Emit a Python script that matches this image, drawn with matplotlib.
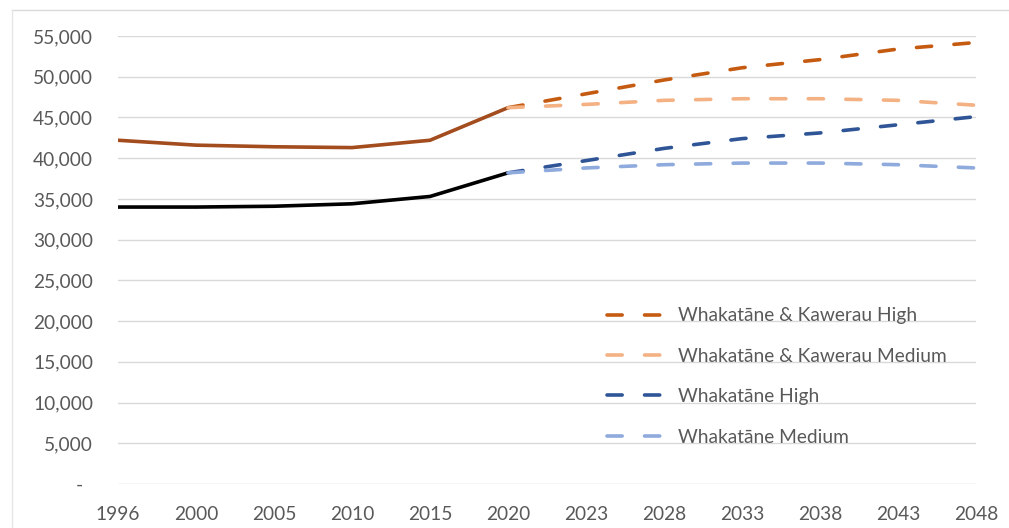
import matplotlib.pyplot as plt
from matplotlib.lines import Line2D
from matplotlib.ticker import FuncFormatter

years = ["1996", "2000", "2005", "2010", "2015", "2020",
         "2023", "2028", "2033", "2038", "2043", "2048"]

# Estimated / census population, 1996-2020
wk_hist = [42200, 41600, 41400, 41300, 42200, 46200]
wh_hist = [34000, 34000, 34100, 34400, 35300, 38200]

# Projections, 2020-2048
wk_high = [46200, 47900, 49600, 51100, 52100, 53400, 54200]
wk_med = [46200, 46600, 47100, 47300, 47300, 47100, 46500]
wh_high = [38200, 39700, 41200, 42400, 43100, 44100, 45100]
wh_med = [38200, 38800, 39200, 39400, 39400, 39200, 38800]

labels = ["Whakatāne & Kawerau High", "Whakatāne & Kawerau Medium",
          "Whakatāne High", "Whakatāne Medium"]
proj_colors = ["#C55A11", "#F4B183", "#2F5597", "#8FAADC"]

plt.rcParams['font.family'] = ['Lato', 'DejaVu Sans']
text_color = "#595959"
fs = 13.8

fig = plt.figure(figsize=(10.09, 5.28), dpi=100)
ax = fig.add_axes([118 / 1009, 1 - 484 / 528, (976 - 118) / 1009, (484 - 36) / 528])

x_hist = list(range(len(wk_hist)))
x_proj = list(range(len(wk_hist) - 1, len(years)))

ax.plot(x_hist, wk_hist, color="#A34C1D", lw=2.6, solid_capstyle="round", zorder=3)
ax.plot(x_hist, wh_hist, color="#000000", lw=2.6, solid_capstyle="round", zorder=3)

dash = (4.2, 6.2)
handles = []
for series, col, lab in zip([wk_high, wk_med, wh_high, wh_med], proj_colors, labels):
    ax.plot(x_proj, series, color=col, lw=2.6, dashes=dash,
            dash_capstyle="round", label=lab, zorder=4)
    handles.append(Line2D([], [], color=col, lw=2.6, dashes=dash,
                          dash_capstyle="round"))

ax.set_xlim(0, len(years) - 1)
ax.set_ylim(0, 55000)
ax.set_yticks(range(0, 55001, 5000))
ax.yaxis.set_major_formatter(
    FuncFormatter(lambda v, p: "-  " if v == 0 else f"{int(v):,}"))
ax.set_xticks(range(len(years)))
ax.set_xticklabels(years)

ax.grid(axis="y", color="#D9D9D9", lw=1.0)
ax.set_axisbelow(True)
for s in ax.spines.values():
    s.set_visible(False)
ax.tick_params(axis="both", length=0, labelsize=fs, labelcolor=text_color)
ax.tick_params(axis="y", pad=18)
ax.tick_params(axis="x", pad=16)

leg = ax.legend(handles, labels, loc="center left", bbox_to_anchor=(0.570, 0.240),
                frameon=False, fontsize=fs, handlelength=3.0, handletextpad=0.68,
                labelspacing=1.22, borderaxespad=0, borderpad=0)
for t in leg.get_texts():
    t.set_color(text_color)

# light chart-area border (top and left)
fig.add_artist(Line2D([12 / 1009, 1], [1 - 10 / 528, 1 - 10 / 528],
                      transform=fig.transFigure, color="#D9D9D9", lw=1.0))
fig.add_artist(Line2D([12 / 1009, 12 / 1009], [0, 1 - 10 / 528],
                      transform=fig.transFigure, color="#E6E6E6", lw=1.0))

fig.savefig("out.png", dpi=100)
